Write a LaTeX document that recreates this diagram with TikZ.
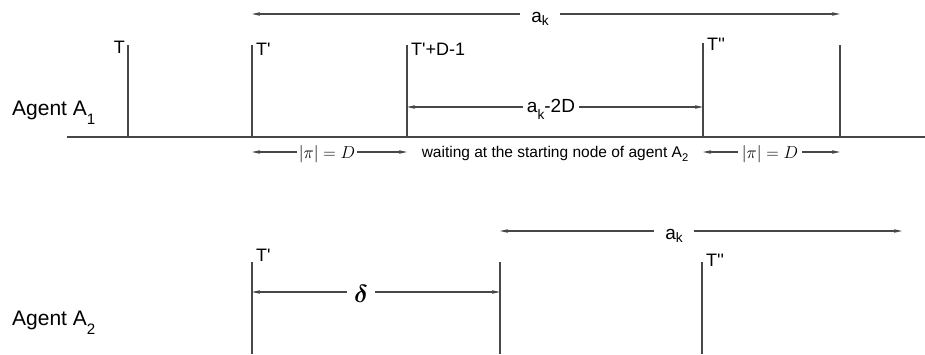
\documentclass[tikz,border=0pt]{standalone}
\usepackage{bm}
\usepackage{fontspec}
\setmainfont{Liberation Sans}
\usetikzlibrary{arrows.meta}
\newcommand\lsub[2][0.35em]{\raisebox{-#1}{\scalebox{0.72}{#2}}}
\newcommand\pr{\textquotesingle}
\begin{document}
\begin{tikzpicture}[x=1pt,y=-1pt,
  ln/.style={draw=black!72, line width=1.1pt},
  dim/.style={ln, {Stealth[length=8pt,width=3.5pt,inset=1.5pt]}-{Stealth[length=8pt,width=3.5pt,inset=1.5pt]}},
  lab/.style={font=\fontsize{18}{20}\selectfont, inner sep=0pt},
  agent/.style={font=\fontsize{21}{24}\selectfont, inner sep=0pt, anchor=base west},
  gap/.style={fill=white, inner ysep=1pt, anchor=base},
]
\useasboundingbox (0,0) rectangle (925,354);
% ---------- row 1 ----------
\coordinate (b1L) at (67,137);
\coordinate (b1R) at (925,137);
\draw[ln] (b1L) -- (b1R);
\coordinate (v1t) at (128,45);  \coordinate (v1b) at (128,137);
\coordinate (v2t) at (252,45);  \coordinate (v2b) at (252,137);
\coordinate (v3t) at (407,45);  \coordinate (v3b) at (407,137);
\coordinate (v4t) at (703,43);  \coordinate (v4b) at (703,137);
\coordinate (v5t) at (840,45);  \coordinate (v5b) at (840,137);
\foreach \i in {1,...,5} \draw[ln] (v\i t) -- (v\i b);
\node[lab, anchor=base east] (lT) at (125,53) {T};
\node[lab, anchor=base west] (lT1) at (256,55) {T\pr};
\node[lab, anchor=base west] (lT2) at (411,55) {T\pr+D-1};
\node[lab, anchor=base west] (lT3) at (707,50) {T\pr\pr};
\node[agent] (ag1) at (12,115) {Agent A\lsub[0.45em]{1}};
% a_k top
\coordinate (ak1L) at (252,14); \coordinate (ak1R) at (840,14);
\draw[dim] (ak1L) -- (ak1R);
\node[gap, font=\fontsize{19}{21}\selectfont, inner xsep=11pt] (ak1) at (540,22) {a\lsub[0.2em]{k}};
% a_k - 2D
\coordinate (w1L) at (407,107); \coordinate (w1R) at (703,107);
\draw[dim] (w1L) -- (w1R);
\node[gap, font=\fontsize{19}{22}\selectfont, inner xsep=4pt] (w1) at (551,112) {a\lsub[0.4em]{k}-2D};
% |pi| = D
\coordinate (p1L) at (252,152); \coordinate (p1R) at (407,152);
\draw[dim] (p1L) -- (p1R);
\node[gap, font=\fontsize{17}{19}\selectfont, inner xsep=2pt] (p1) at (327,158) {$|\pi| = D$};
\coordinate (p2L) at (703,152); \coordinate (p2R) at (840,152);
\draw[dim] (p2L) -- (p2R);
\node[gap, font=\fontsize{17}{19}\selectfont, inner xsep=4pt] (p2) at (770,158) {$|\pi| = D$};
\node[font=\fontsize{15.5}{18}\selectfont, inner sep=0pt, anchor=base] (wait) at (555,157) {waiting at the starting node of agent A\lsub[0.3em]{2}};
% ---------- row 2 ----------
\coordinate (u1t) at (252,262); \coordinate (u1b) at (252,354);
\coordinate (u2t) at (500,262); \coordinate (u2b) at (500,354);
\coordinate (u3t) at (702,262); \coordinate (u3b) at (702,354);
\foreach \i in {1,2,3} \draw[ln] (u\i t) -- (u\i b);
\node[lab, anchor=base west] (lU1) at (256,261) {T\pr};
\node[lab, anchor=base west] (lU3) at (706,266) {T\pr\pr};
\node[agent] (ag2) at (12,325) {Agent A\lsub[0.45em]{2}};
\coordinate (d1L) at (252,292); \coordinate (d1R) at (500,292);
\draw[dim] (d1L) -- (d1R);
\node[gap, font=\fontsize{24}{28}\selectfont, inner xsep=7pt] (dl) at (361,302) {$\bm{\delta}$};
\coordinate (ak2L) at (500,231); \coordinate (ak2R) at (902,231);
\draw[dim] (ak2L) -- (ak2R);
\node[gap, font=\fontsize{19}{21}\selectfont, inner xsep=11pt] (ak2) at (674,239) {a\lsub[0.2em]{k}};
\end{tikzpicture}
\end{document}
